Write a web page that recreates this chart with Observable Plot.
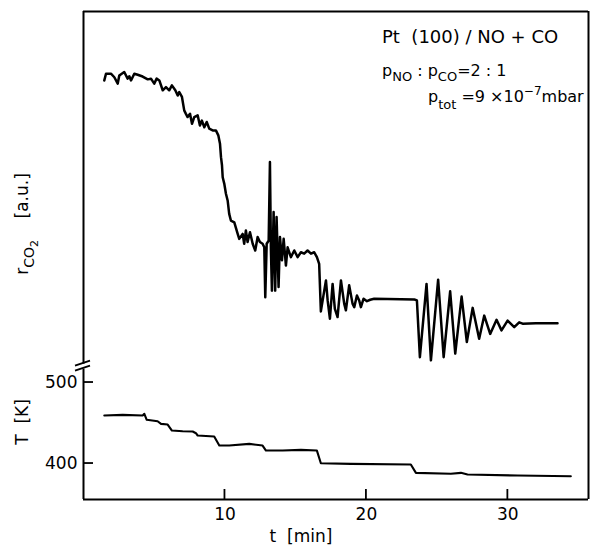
<!DOCTYPE html>
<html><head><meta charset="utf-8">
<script src="https://cdn.jsdelivr.net/npm/d3@7"></script>
<script src="https://cdn.jsdelivr.net/npm/@observablehq/plot@0.6"></script>
<style>body{margin:0;background:#fff} svg{display:block}</style>
</head><body><div id="chart"></div>
<script>
// CO2 production rate r_CO2 (arbitrary units) vs time t (min)
const rTime = [1.47,1.59,1.94,2.18,2.42,2.53,2.88,3.12,3.24,3.36,3.59,3.83,4.18,4.54,4.77,5.00,5.17,5.36,5.60,5.83,6.06,6.25,6.49,6.66,6.77,6.96,7.12,7.24,7.36,7.53,7.67,7.83,8.07,8.23,8.37,8.54,8.71,8.89,9.13,9.36,9.53,9.65,9.72,9.79,9.84,9.95,10.07,10.19,10.30,10.42,10.66,10.90,11.01,11.25,11.36,11.48,11.60,11.77,11.96,12.14,12.31,12.47,12.66,12.78,12.85,12.95,13.09,13.18,13.25,13.32,13.44,13.55,13.65,13.79,13.89,14.03,14.15,14.31,14.43,14.66,14.90,15.14,15.37,15.60,15.84,16.08,16.31,16.50,16.66,16.78,17.02,17.14,17.26,17.42,17.61,17.77,17.96,18.20,18.43,18.55,18.78,19.02,19.14,19.33,19.49,19.61,19.80,20.04,20.27,20.55,23.38,23.57,23.78,24.25,24.56,25.07,25.46,25.92,26.28,26.73,27.10,27.51,27.97,28.33,28.75,29.20,29.55,29.98,30.45,30.80,31.04,31.98,33.51];
const rValue = [80.4,82.3,82.3,81.3,79.5,81.8,82.8,80.9,81.6,80.4,82.3,82.0,81.5,80.7,80.9,79.5,80.9,80.4,77.6,78.5,77.6,79.0,77.6,76.1,77.1,75.7,71.9,70.9,70.0,70.9,68.1,70.0,70.5,67.6,69.0,67.1,68.6,66.7,66.2,66.2,64.8,62.4,58.6,56.3,52.9,51.1,48.2,46.3,42.5,40.6,40.1,36.8,35.4,36.8,34.0,37.8,34.5,37.3,34.0,32.1,35.9,34.5,34.0,33.0,18.8,34.0,34.9,57.2,32.1,20.7,43.0,20.7,41.6,21.7,35.9,29.3,35.4,27.8,33.0,30.2,32.1,30.2,31.6,31.2,32.1,31.2,31.6,30.2,28.3,14.8,20.7,23.6,17.9,12.7,22.6,15.5,13.2,23.6,17.0,15.1,22.2,17.0,16.0,19.3,17.9,16.0,18.4,17.7,18.1,18.4,18.2,17.9,1.8,22.6,0.9,23.8,1.8,20.5,2.8,19.0,6.1,15.8,7.0,13.6,8.4,12.4,9.4,12.2,10.3,11.7,11.3,11.4,11.4];
// Crystal temperature T (K) vs time t (min)
const tTime = [1.47,2.77,4.18,4.30,4.47,5.24,5.48,5.95,6.25,7.01,7.72,7.95,8.07,9.24,9.60,10.30,11.72,12.66,12.90,14.08,15.37,16.50,16.78,18.90,23.14,23.50,25.97,26.68,27.15,30.69,34.45];
const tTemp = [459.3,460.1,459.3,461.4,454.0,452.2,449.0,448.1,440.7,439.9,439.5,437.4,434.6,433.3,422.2,422.2,424.3,422.2,416.0,416.0,416.9,416.0,400.4,399.6,398.8,388.5,387.3,388.5,386.4,385.2,384.3];

const xTicks = [10, 20, 30];
const xTickLabels = ["10", "20", "30"];
const yTicks = [400, 500];
const yTickLabels = ["400", "500"];
const xDomain = [0, 35.7];
const yDomain = [355.6, 958];
// the upper (rate) panel sits above the axis break, in arbitrary units
const breakK = 519;
const rBaseK = 523.5, rUnitK = 4.346;

const rData = rTime.map((t, i) => ({t, r: rValue[i]}));
const TData = tTime.map((t, i) => ({t, T: tTemp[i]}));

const FONT = "DejaVu Sans";
const plot = Plot.plot({
  width: 590, height: 547,
  marginLeft: 83, marginRight: 2, marginTop: 11, marginBottom: 48,
  style: {fontFamily: FONT, fontSize: "17px", color: "#000", background: "#fff"},
  x: {domain: xDomain},
  y: {domain: yDomain},
  marks: [
    Plot.axisX(xTicks, {tickSize: 0, tickPadding: 8, label: null, fontSize: 17, tickFormat: (d, i) => xTickLabels[i]}),
    Plot.axisY(yTicks, {tickSize: 0, tickPadding: 6, label: null, fontSize: 17, tickFormat: (d, i) => yTickLabels[i]}),
    Plot.ruleY([yDomain[0], yDomain[1]], {stroke: "#000", strokeWidth: 2}),
    Plot.ruleX([xDomain[0], xDomain[1]], {stroke: "#000", strokeWidth: 2}),
    Plot.line(rData, {x: "t", y: d => rBaseK + rUnitK * d.r, stroke: "#000", strokeWidth: 2.5, strokeLinejoin: "round", curve: "linear"}),
    Plot.line(TData, {x: "t", y: "T", stroke: "#000", strokeWidth: 2.1, strokeLinejoin: "round"})
  ]
});
document.getElementById("chart").appendChild(plot);

const svg = d3.select(plot);
const sx = plot.scale("x"), sy = plot.scale("y");
const X = v => sx.apply(v), Y = v => sy.apply(v);
const g = svg.append("g").attr("stroke", "#000").attr("stroke-width", 1.8).attr("fill", "none");
xTicks.forEach(v => g.append("line").attr("x1", X(v)).attr("x2", X(v)).attr("y1", Y(yDomain[0])).attr("y2", Y(yDomain[0]) - 10));
yTicks.forEach(v => g.append("line").attr("y1", Y(v)).attr("y2", Y(v)).attr("x1", X(xDomain[0])).attr("x2", X(xDomain[0]) + 10));
// axis break marks
const bx = X(xDomain[0]), by = Y(breakK);
g.append("rect").attr("x", bx - 2).attr("y", by - 3).attr("width", 4).attr("height", 5).attr("fill", "#fff").attr("stroke", "none");
g.append("line").attr("x1", bx - 8).attr("y1", by - 1).attr("x2", bx + 7).attr("y2", by - 6);
g.append("line").attr("x1", bx - 8).attr("y1", by + 4).attr("x2", bx + 7).attr("y2", by - 1);

const t = svg.append("g").attr("font-family", FONT).attr("fill", "#000").attr("text-anchor", "start");
// title block
t.append("text").attr("x", 382).attr("y", 43).attr("font-size", 18).attr("xml:space", "preserve").text("Pt  (100) / NO + CO");
const l2 = t.append("text").attr("x", 382).attr("y", 76).attr("font-size", 16);
l2.append("tspan").text("p");
l2.append("tspan").attr("font-size", 13).attr("dy", 5).text("NO");
l2.append("tspan").attr("dy", -5).text(" : p");
l2.append("tspan").attr("font-size", 13).attr("dy", 5).text("CO");
l2.append("tspan").attr("dy", -5).text("=2 : 1");
const l3 = t.append("text").attr("x", 428).attr("y", 102).attr("font-size", 16);
l3.append("tspan").text("p");
l3.append("tspan").attr("font-size", 13).attr("dy", 7).text("tot");
l3.append("tspan").attr("dy", -7).text(" =9 \u00d710");
l3.append("tspan").attr("font-size", 12).attr("dy", -7).text("\u22127");
l3.append("tspan").attr("dy", 7).text("mbar");

// axis labels
const ry = t.append("text").attr("transform", "translate(28,224) rotate(-90)").attr("text-anchor", "middle").attr("font-size", 17).attr("xml:space", "preserve");
ry.append("tspan").text("r");
ry.append("tspan").attr("font-size", 14).attr("dy", 6).text("CO");
ry.append("tspan").attr("font-size", 11).attr("dy", 4).text("2");
ry.append("tspan").attr("dy", -10).text("    [a.u.]");
t.append("text").attr("transform", "translate(28,422) rotate(-90)").attr("text-anchor", "middle").attr("font-size", 17).attr("xml:space", "preserve").text("T  [K]");
t.append("text").attr("x", 301).attr("y", 542).attr("text-anchor", "middle").attr("font-size", 17).attr("xml:space", "preserve").text("t  [min]");
</script>
</body></html>
